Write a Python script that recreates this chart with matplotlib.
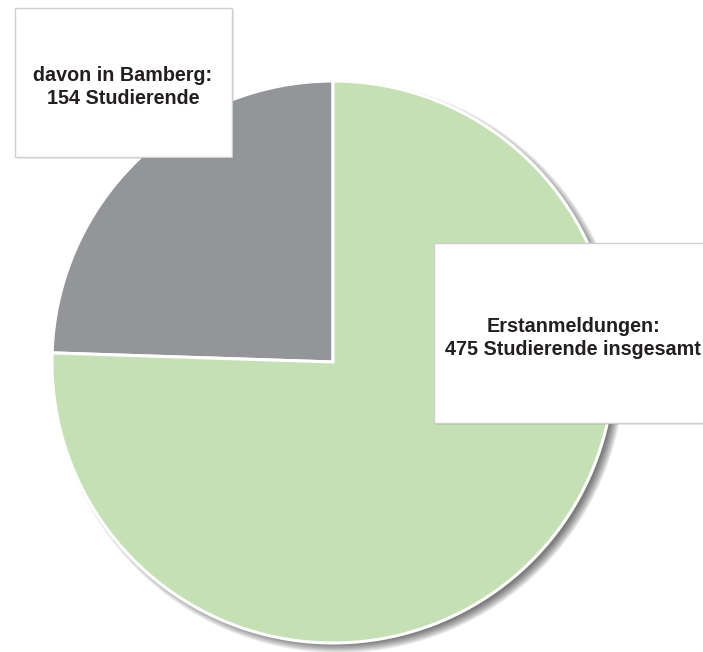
import matplotlib.pyplot as plt
import matplotlib.patches as pch

# Studierende
labels = ["davon in Bamberg", "Erstanmeldungen"]
werte = [154, 475]
farben = ["#939598", "#c5e0b4"]
texte = ["davon in Bamberg:\n154 Studierende",
         "Erstanmeldungen:\n475 Studierende insgesamt"]

W, H = 703, 652
fig = plt.figure(figsize=(W / 100, H / 100), dpi=100)
ax = fig.add_axes([0, 0, 1, 1])
ax.set_xlim(0, W)
ax.set_ylim(0, H)
ax.set_aspect("equal")
ax.axis("off")

cx, cy, r = 333, 290, 281

# weicher Schatten unten rechts
for i in range(10):
    ax.add_patch(pch.Circle((cx + 6, cy - 5), r + 5 - i, color="#000000",
                            alpha=0.065, lw=0, zorder=1))

ax.pie(werte, colors=farben, startangle=90, counterclock=True,
       center=(cx, cy), radius=r, frame=True,
       wedgeprops=dict(edgecolor="white", linewidth=2.2, zorder=2))
ax.set_xlim(0, W)
ax.set_ylim(0, H)
ax.axis("off")

# Beschriftungskästen
kaesten = [(15, H - 157, 217, 149), (434, H - 423, 290, 180)]
positionen = [(123, H - 87), (573, H - 338)]
for (x, y, b, h), (tx, ty), t in zip(kaesten, positionen, texte):
    ax.add_patch(pch.Rectangle((x + 2, y - 2), b, h, facecolor="#000000",
                               alpha=0.08, lw=0, zorder=3))
    ax.add_patch(pch.Rectangle((x, y), b, h, facecolor="white",
                               edgecolor="#cfcfcf", linewidth=1, zorder=4))
    ax.text(tx, ty, t, ha="center", va="center", fontsize=14.2,
            fontweight="bold", family="Liberation Sans", color="#231f20",
            linespacing=1.25, zorder=5)

fig.savefig("out.png", dpi=100)
